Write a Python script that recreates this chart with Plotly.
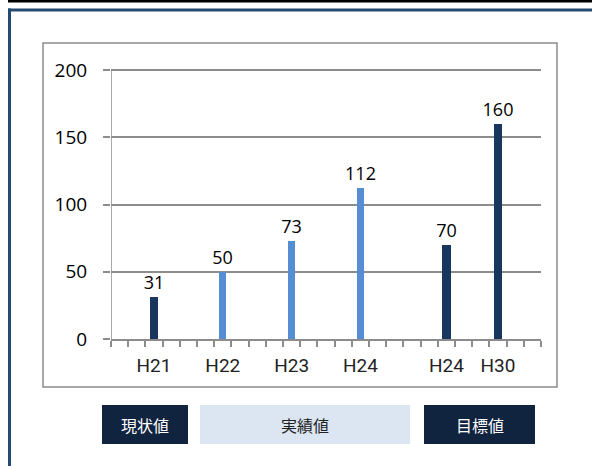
import plotly.graph_objects as go

# Values per period (baseline, actuals, targets)
labels = ["H21", "H22", "H23", "H24", "H24", "H30"]
values = [31, 50, 73, 112, 70, 160]
positions = [2.5, 6.5, 10.5, 14.5, 19.5, 22.5]
kinds = ["現状値", "実績値", "実績値", "実績値", "目標値", "目標値"]

NAVY = "#17375E"
LIGHT = "#558ED5"
BOX_DARK = "#10243F"
BOX_LIGHT = "#DCE6F2"
GRID = "#8C8C8C"

bar_colors = [LIGHT if k == "実績値" else NAVY for k in kinds]
bar_widths = [0.52 if k == "目標値" else 0.42 for k in kinds]

W, H = 592, 466
pl, pr, pt, pb = 111, 51, 66, 127
pw, ph = W - pl - pr, H - pt - pb
# 0..200 spans 269 px; a little headroom keeps the 200 gridline off the edge
y_top = 200 + 4 * 200 / 269

fig = go.Figure()
fig.add_trace(go.Bar(
    x=positions,
    y=values,
    width=bar_widths,
    marker=dict(color=bar_colors, line=dict(width=0)),
    text=[str(v) for v in values],
    textposition="outside",
    constraintext="none",
    cliponaxis=False,
    textfont=dict(family="Open Sans", size=18, color="#000000"),
    hoverinfo="skip",
))

fig.update_layout(
    width=W,
    height=H,
    margin=dict(l=pl, r=pr, t=pt, b=pb),
    paper_bgcolor="white",
    plot_bgcolor="white",
    showlegend=False,
    bargap=0,
    xaxis=dict(
        range=[0, 25],
        tickmode="array",
        tickvals=positions,
        ticktext=labels,
        ticks="",
        ticklabelstandoff=8,
        showline=True,
        linecolor=GRID,
        linewidth=1.5,
        showgrid=False,
        zeroline=False,
        tickfont=dict(family="Liberation Sans Narrow, Roboto, sans-serif", size=19, color="#222222"),
        minor=dict(tickmode="linear", tick0=0, dtick=1, ticks="outside", ticklen=6,
                   tickcolor=GRID, tickwidth=1.5, showgrid=False),
    ),
    yaxis=dict(
        range=[0, y_top],
        tickmode="linear",
        tick0=0,
        dtick=50,
        ticks="outside",
        ticklen=7,
        tickcolor=GRID,
        tickwidth=1.5,
        ticklabelstandoff=12,
        showline=False,
        showgrid=True,
        gridcolor=GRID,
        gridwidth=1.5,
        zeroline=False,
        tickfont=dict(family="Open Sans", size=19, color="#000000"),
    ),
)


def px_x(x):
    return (x - pl) / pw


def px_y(y):
    return (H - pb - y) / ph


shapes = []
# page frame
shapes.append(dict(type="rect", xref="paper", yref="paper",
                   x0=px_x(8), x1=px_x(592), y0=px_y(0), y1=px_y(2.5),
                   fillcolor="#000000", line=dict(width=0), layer="above"))
shapes.append(dict(type="line", xref="paper", yref="paper",
                   x0=px_x(8), x1=px_x(592), y0=px_y(10), y1=px_y(10),
                   line=dict(color="#244A72", width=3)))
shapes.append(dict(type="line", xref="paper", yref="paper",
                   x0=px_x(9.5), x1=px_x(9.5), y0=px_y(8.5), y1=px_y(466),
                   line=dict(color="#244A72", width=3)))
# chart area border
shapes.append(dict(type="rect", xref="paper", yref="paper",
                   x0=px_x(43), x1=px_x(557), y0=px_y(43), y1=px_y(387),
                   line=dict(color="#8C8C8C", width=1.5), fillcolor="rgba(0,0,0,0)",
                   layer="below"))
# value axis line, from 0 up to 200
shapes.append(dict(type="line", xref="x", yref="y", x0=0, x1=0, y0=0, y1=200,
                   line=dict(color=GRID, width=1.5), layer="below"))

# category boxes below the axis
boxes = [
    ("現状値", 102, 188, BOX_DARK, "#FFFFFF"),
    ("実績値", 200, 410, BOX_LIGHT, "#222222"),
    ("目標値", 424, 535, BOX_DARK, "#FFFFFF"),
]
annotations = []
for text, x0, x1, fill, tc in boxes:
    shapes.append(dict(type="rect", xref="paper", yref="paper",
                       x0=px_x(x0), x1=px_x(x1), y0=px_y(405), y1=px_y(444),
                       fillcolor=fill, line=dict(width=0)))
    annotations.append(dict(xref="paper", yref="paper",
                            x=px_x((x0 + x1) / 2), y=px_y(424.5),
                            text=text, showarrow=False,
                            xanchor="center", yanchor="middle",
                            font=dict(family="Noto Sans CJK JP, sans-serif", size=16, color=tc)))

fig.update_layout(shapes=shapes, annotations=annotations)
fig.write_html("out.html")
